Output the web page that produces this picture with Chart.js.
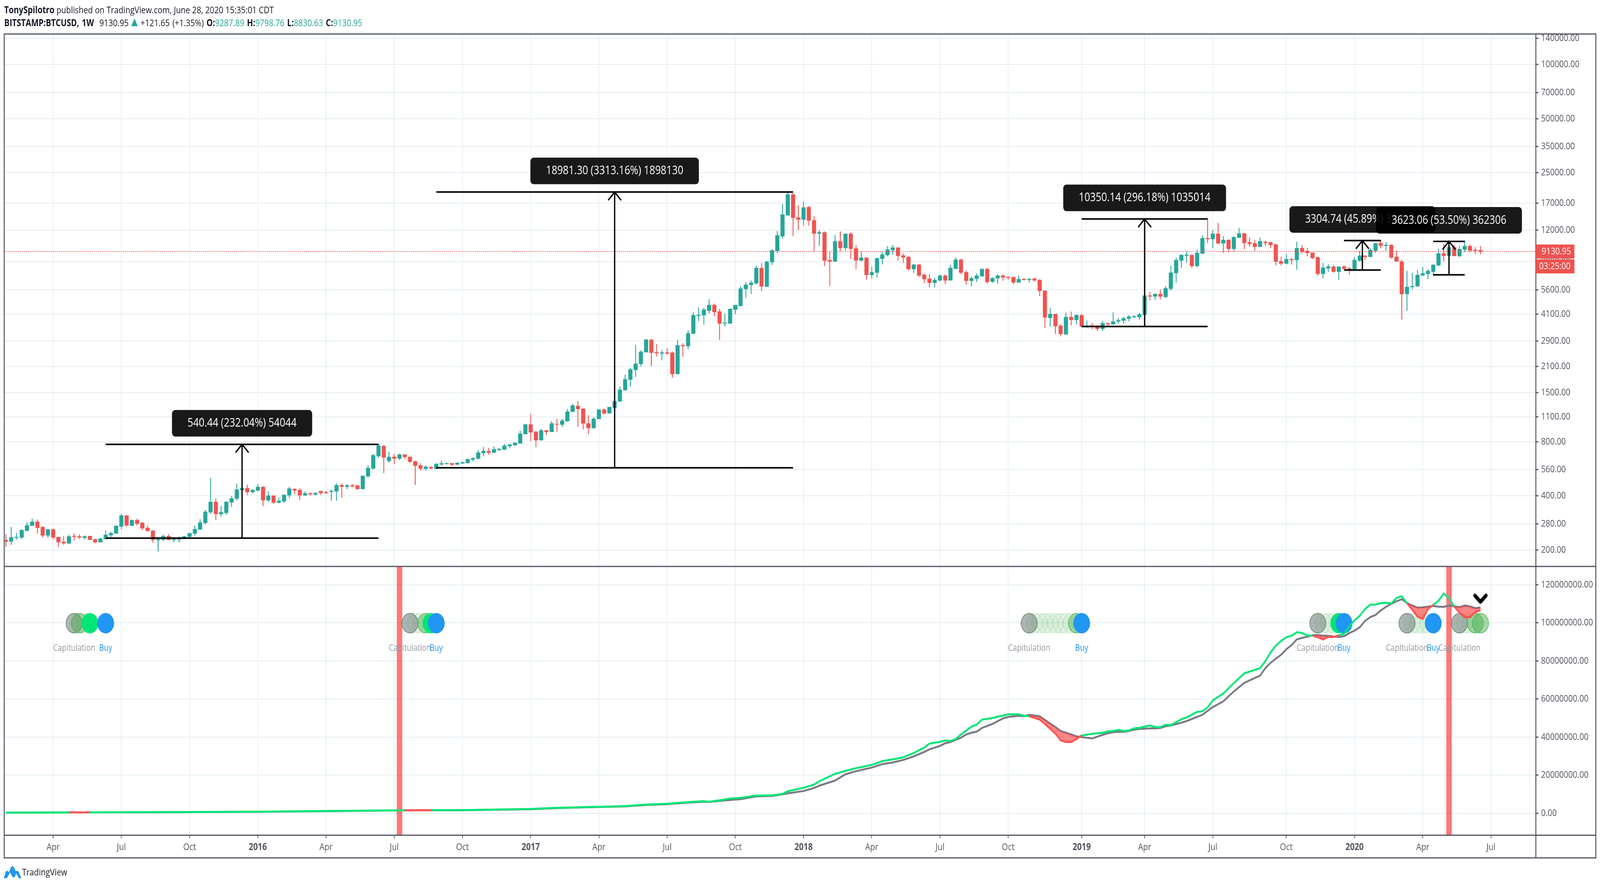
<!DOCTYPE html>
<html>
<head>
<meta charset="utf-8">
<style>
html, body { margin: 0; padding: 0; background: #fff; width: 100vw; height: 100vh; overflow: hidden; }
#root { position: absolute; left: 0; top: 0; width: 4936px; height: 2268px; overflow: hidden; transform-origin: 0 0; font-family: "Open Sans", sans-serif; color: #131722; }
canvas { position: absolute; left: 0; top: 0; }
.head { position: absolute; left: 13px; font-size: 24.4px; white-space: nowrap; line-height: 30px; }
.head b { font-weight: 700; }
.teal { color: #26a69a; }
.tri { display: inline-block; width: 0; height: 0; border-left: 10px solid transparent; border-right: 10px solid transparent; border-bottom: 20px solid #26a69a; }
#logo { position: absolute; left: 12px; top: 2216px; }
#logoText { position: absolute; left: 68px; top: 2214px; font-size: 24.4px; line-height: 36px; color: #131722; }
</style>
<script src="https://cdn.jsdelivr.net/npm/chart.js@4"></script>
</head>
<body>
<div id="root">
<canvas id="chart" width="4936" height="2268"></canvas>
<div class="head" style="top:10px"><b>TonySpilotro</b> published on TradingView.com, June 28, 2020 15:35:01 CDT</div>
<div class="head" style="top:43px;word-spacing:2px"><b>BITSTAMP:BTCUSD, 1W</b>&nbsp; 9130.95 <span class="tri"></span> +121.65 (+1.35%) <b>O:</b><span class="teal">9287.89</span> <b>H:</b><span class="teal">9798.76</span> <b>L:</b><span class="teal">8830.63</span> <b>C:</b><span class="teal">9130.95</span></div>
<svg id="logo" width="54" height="32" viewBox="0 0 54 32"><path d="M0 32 L5 17 Q8 10 13 15 L15 17 L22 4 Q26 -1 31 4 L37 15 Q41 11 45 15 L54 32 L46 32 L38 20 L33 29 Q29 32 26 28 L19 17 L12 28 Q10 32 6 32 Z" fill="#2196f3"/></svg>
<div id="logoText">TradingView</div>
</div>
<script>
// the browser can clamp the window below 4936 wide, so fit the 4936x2268 drawing into whatever it gives
document.getElementById('root').style.transform = 'scale(' + (window.innerWidth / 4936) + ',' + (window.innerHeight / 2268) + ')';

var opens = [227,223,234,235,256,273,287,268,241,260,
236,222,218,239,238,234,239,229,221,230,
242,247,270,311,273,293,283,265,256,227,
228,239,228,229,231,237,247,260,283,324,
370,317,322,368,386,431,441,420,429,448,
378,401,367,373,403,437,431,403,413,407,
425,419,422,424,459,450,458,457,437,515,
568,665,757,625,658,645,678,658,621,591,
566,578,566,599,603,607,598,606,609,636,
645,692,710,696,719,724,756,765,783,882,
997,907,816,925,907,1003,997,1041,1176,1265,
1222,1011,953,1070,1205,1151,1234,1340,1547,1770,
2005,2165,2515,2947,2515,2475,2505,2500,1905,2750,
2720,3200,4015,4040,4280,4600,4230,3635,3635,4335,
4560,5650,5955,6080,7390,5825,7974,9210,11100,14510,
18950,14100,13750,16130,13620,11500,11670,8180,8040,10400,
9550,11440,9500,8140,8430,6770,6970,8330,8730,9300,
9600,8680,8510,7290,7710,6770,6440,6120,6310,6700,
6310,7320,8220,7000,6280,6450,6670,7290,6210,6480,
6700,6590,6560,6150,6420,6360,6440,6340,5530,3900,
4100,3530,3160,3945,3805,4040,3500,3545,3530,3395,
3640,3600,3735,3770,3865,3940,3945,4060,5190,5140,
5300,5110,5670,6930,8140,8670,8730,7590,8905,10820,
10710,11460,10140,10590,9450,10900,11500,10260,10140,9700,
10320,10260,9990,8060,7830,8270,8190,9530,9190,8990,
8470,6860,7360,7520,7050,7520,7360,7280,8130,8650,
8530,9240,10140,9830,9930,8530,8030,5300,5800,5860,
6730,6860,7050,7660,8900,8650,9650,8620,9360,9790,
9320,9287.89];
var highs = [244,268,249,260,284,298,295,271,261,263,
236,238,242,247,244,241,240,231,234,257,
252,274,317,311,295,298,286,273,258,236,
243,245,236,237,239,248,273,296,334,502,
387,351,372,399,467,467,460,435,464,451,
422,401,391,405,448,439,441,422,417,417,
425,425,433,469,469,464,464,457,517,588,
682,778,765,703,682,685,682,661,627,605,
588,584,607,629,612,607,614,617,642,656,
718,746,738,752,738,775,775,791,920,1005,
1139,917,940,925,1041,1073,1070,1216,1297,1344,
1222,1118,1096,1216,1222,1248,1344,1620,1885,2056,
2750,2575,2965,2980,2790,2590,2640,2530,2935,2815,
3330,4185,4460,4440,4960,4685,4380,4125,4380,4600,
5840,6180,6300,7600,7870,8080,9380,11860,16770,19600,
19300,16500,17220,16330,14390,11950,11790,9130,11270,11790,
11500,11670,9900,9090,8470,7510,8410,9040,9770,9930,
9600,8900,8560,7790,7750,6900,6830,6490,6810,6810,
7710,8470,8300,7150,6640,6900,7330,7400,6560,6830,
6810,6640,6640,6720,6480,6480,6540,6380,5530,4420,
4100,3585,4165,4225,4080,4100,3770,3660,3530,3735,
3660,4186,3880,3945,4040,4040,4165,5350,5440,5350,
5620,5850,7590,8410,8770,9090,8730,9360,11205,13890,
12040,13140,11100,10660,11100,12350,11550,10900,10590,10900,
10500,10320,10040,8530,8820,8410,10320,9930,9530,8990,
8530,7880,7740,7660,7520,7660,7480,8470,9190,8650,
9530,10140,10560,10320,9990,9210,8190,7120,6970,7210,
7480,7280,7740,9450,10040,10320,9930,9790,10500,9990,
9630,9798.76];
var lows = [209,214,228,230,255,273,247,235,235,229,
208,214,216,226,230,229,228,218,221,230,
236,247,261,270,273,274,258,255,220,197,
224,227,221,221,230,235,241,260,277,319,
293,308,314,347,378,405,405,414,424,351,
371,361,364,367,391,407,380,401,401,403,
405,409,376,376,391,437,446,433,435,505,
561,652,535,612,603,635,642,609,460,553,
551,563,563,589,598,589,594,604,607,621,
638,664,678,694,715,719,738,762,779,880,
807,746,811,875,907,907,968,1035,1163,968,
940,882,948,1070,1136,1151,1234,1333,1547,1622,
1835,2100,2515,2110,2385,2270,2445,1815,1895,2380,
2610,3165,3755,3585,4150,3985,2945,3500,3635,4100,
4510,5060,5320,6000,5520,5825,7700,8960,10770,14470,
11120,12000,12760,12760,9090,9840,7590,5880,8040,9200,
9270,8320,7290,8050,6370,6470,6560,7750,8600,8780,
8140,7890,7180,6970,6590,6100,5780,5780,6250,6030,
6310,7320,6830,5980,5850,6180,6590,6060,6120,6060,
6280,6370,6030,6120,6310,6150,6250,5170,3440,3500,
3190,3090,3160,3550,3600,3480,3440,3375,3310,3310,
3515,3585,3640,3640,3750,3900,3825,4020,4890,4910,
4960,5030,5530,6150,7440,7940,7400,7480,8860,10200,
9530,10040,8990,9040,9160,10900,9410,9700,9240,9700,
9790,9530,7660,7660,7740,7740,7250,8900,8610,8290,
6730,6480,7050,6970,6370,7250,6800,7280,8030,8190,
8530,8990,9530,9240,8340,8030,3830,4290,5650,5820,
6690,6420,6690,7580,8060,8650,8610,8530,9100,9040,
8860,8830.63];
var closes = [223,235,236,258,274,287,266,241,260,235,
221,218,238,237,235,238,228,221,231,243,
248,272,311,274,293,280,264,255,228,229,
239,228,230,232,238,248,261,284,326,370,
317,324,370,387,433,441,420,431,448,378,
401,367,375,405,439,429,403,413,409,415,
415,415,426,459,450,457,453,437,517,571,
672,761,654,658,645,678,658,619,588,567,
580,569,601,606,607,596,609,614,640,647,
696,710,696,726,728,760,771,789,887,997,
902,816,925,907,1011,997,1047,1176,1272,1216,
1011,953,1073,1205,1151,1245,1344,1555,1780,2016,
2171,2527,2955,2500,2490,2505,2475,1905,2750,2720,
3205,4040,4060,4335,4600,4205,3635,3665,4380,4600,
5680,5970,6115,7390,5840,8020,9260,11220,14650,18950,
14060,13750,16030,13580,11500,11670,8140,8040,10400,9550,
11440,9450,8140,8430,6770,7000,8370,8770,9360,9600,
8640,8470,7290,7710,6720,6410,6120,6340,6700,6310,
7400,8220,6970,6280,6480,6700,7290,6180,6490,6700,
6560,6530,6150,6410,6360,6430,6310,5510,3930,4100,
3515,3175,3945,3805,4040,3500,3530,3500,3395,3640,
3600,3725,3785,3880,3965,3980,4080,5190,5140,5300,
5140,5700,6970,8180,8730,8760,7590,8970,10820,10710,
11460,10140,10590,9450,10960,11500,10200,10060,9700,10410,
10200,9930,8030,7830,8270,8190,9530,9100,8960,8410,
6860,7420,7520,7050,7520,7330,7280,8190,8650,8530,
9320,10140,9830,9930,8470,8030,5300,5800,5860,6760,
6900,7120,7700,8900,8650,9650,8620,9410,9790,9240,
9210,9130.95];

// hash ribbon pane, in millions, read at these weeks
var hashWeeks = [0,11,12,15,16,30,48,61,75,76,80,81,87,100,105,113,118,122,126,130,133,134,136,138,140,143,146,148,149,152,154,155,158,160,162,165,167,169,171,173,175,176,178,179,180,181,182,183,184,185,186,188,189,190,191,193,194,195,197,198,200,201,202,203,204,205,207,209,210,211,212,213,214,215,216,218,219,220,221,222,224,225,227,228,229,230,232,234,236,239,240,241,242,243,244,245,246,247,248,249,250,251,252,253,254,255,256,257,258,259,260,261,262,263,264,265,266,267,268,269,270,271,272,273,274,275,276,277,278,279,280,281];
var hashFast = [.35,.46,.47,.5,.52,.6,.85,1.2,1.55,1.55,1.6,1.62,1.7,2.3,2.9,3.4,3.8,4.6,5,5.9,6.4,6.1,6.8,7.8,8.1,9.3,9.4,10.2,11.6,13.4,15.1,16.8,20.7,22.3,23.7,25.4,27.4,28.3,29.4,31.7,34.5,36.6,37.5,38.3,38,39,41.4,43.5,45.5,46.6,49.2,50,50.8,51.2,52,52,51.2,51,49.2,46.9,41.8,38.3,37.4,37.4,39,40.9,41.7,42.3,43,43.2,43.8,43.2,43.5,44.6,44.9,46.1,45.3,45.2,46.5,46.3,49.4,50.3,53.2,53.6,55.6,59.3,62.9,68.4,73.5,76.2,79.9,84.5,88,90.5,92.4,93.2,95.1,94.7,93.3,93.4,92.4,91.3,92.6,92.6,93.4,94.3,98,101.3,103.7,107.2,109.5,109.6,110.3,110.5,110.2,113,114,110.3,106.9,103.3,102,107.3,109.4,111.6,115.4,113,108.6,105.4,102.9,102.9,105.6,106.6];
var hashSlow = [.33,.45,.48,.51,.51,.58,.8,1.1,1.5,1.56,1.61,1.6,1.6,2.15,2.75,3.3,3.6,4.4,4.8,5.6,6.1,6,6.5,7,7.4,8.9,9.1,10,10.5,11.7,13.3,14.5,17.2,20.5,22.1,24,25.8,26.7,28,29.9,32.2,33.6,35.4,36.8,37.4,38.6,39.7,41.4,42.3,42.9,44.8,46.9,48.4,49.8,50.6,51.2,51,51.7,50.9,49,45.3,43.2,42.3,41.4,40.4,40,39.3,41.2,42,42.6,42.8,42.8,43.2,43.9,44.3,44.6,44.6,44.8,45.7,46.1,47.6,48.4,50.6,51.7,53.8,55.8,58.8,64,68.5,72.3,76.2,79,81.2,83.2,86.1,88.3,91.3,92.1,92.7,93.5,93.6,93.3,93.2,92.8,92.6,93,94.6,95.9,97.7,101,103,104.1,106.5,108.4,110,111.3,112.4,110.4,109.1,108,108.1,108.5,108.9,108.5,108.4,109.1,108.7,108.2,109.1,108.6,107.7,108];

// ribbon signal weeks
var capitulationWeeks = [13,77,195,250,267,277];
var buyWeeks = [19,82,205,255,272];
var brightWeeks = [16,81,254];
var strongWeeks = [14,80,204,280,281];
var paleWeeks = [15,78,79,196,197,198,199,200,201,202,203,251,252,253,268,269,270,271,278,279];
var bandWeeks = [75,275];

// axis ticks
var tickWeeks = [9,22,35,48,61,74,87,100,113,126,139,152,165,178,191,205,217,230,244,257,270,283];
var tickLabels = ['Apr','Jul','Oct','2016','Apr','Jul','Oct','2017','Apr','Jul','Oct','2018','Apr','Jul','Oct','2019','Apr','Jul','Oct','2020','Apr','Jul'];
var priceTicks = [140000,100000,70000,50000,35000,25000,17000,12000,8000,5600,4100,2900,2100,1500,1100,800,560,400,280,200];
var hashTicks = [0,20,40,60,80,100,120];

// price range measurements
var measureFrom = [19,82,205,255,272];
var measureTo = [71,150,229,262,278];
var measureLow = [232.9,572.9,3494.7,7201,6772];
var measureHigh = [773.3,19554,13845,10506,10395];
var measureText = ['540.44 (232.04%) 54044','18981.30 (3313.16%) 1898130','10350.14 (296.18%) 1035014','3304.74 (45.89%) 330474','3623.06 (53.50%) 362306'];

var lastPrice = 9130.95;
var upColor = '#26a69a', downColor = '#ef5350', frameColor = '#50535e', gridColor = '#e3edf3';
var axisFont = '"Open Sans", sans-serif';

var weeks = closes.map(function (c, i) { return i; });
var candleColors = closes.map(function (c, i) { return c >= opens[i] ? upColor : downColor; });
var hashMin = -11.5, hashMax = 129.6;

function dots(list, value) {
    return list.map(function (w) { return { x: w, y: value }; });
}
function marker(list, fill, border, order) {
    return { type: 'scatter', data: dots(list, 99.8), yAxisID: 'yHash', order: order, pointRadius: 25, pointBorderWidth: 2, pointBackgroundColor: fill, pointBorderColor: border };
}

// everything that is not a dataset: frame, last price, measures, labels
var overlay = {
    id: 'overlay',
    afterDatasetsDraw: function (chart) {
        var c = chart.ctx, a = chart.chartArea;
        var x = chart.scales.x, yp = chart.scales.yPrice, yh = chart.scales.yHash;
        c.save();
        c.lineCap = 'butt';

        // ribbon labels under the circles
        c.font = '23px ' + axisFont;
        c.textAlign = 'center';
        c.textBaseline = 'middle';
        c.fillStyle = '#9598a1';
        capitulationWeeks.forEach(function (w) { c.fillText('Capitulation', x.getPixelForValue(w), yh.getPixelForValue(86.6)); });
        c.fillStyle = '#2196f3';
        buyWeeks.forEach(function (w) { c.fillText('Buy', x.getPixelForValue(w), yh.getPixelForValue(86.6)); });

        // chevron over the last bar
        var cx = x.getPixelForValue(281), cy = yh.getPixelForValue(110);
        c.strokeStyle = '#000';
        c.lineWidth = 10;
        c.lineCap = 'round';
        c.lineJoin = 'round';
        c.beginPath();
        c.moveTo(cx - 17, cy - 21);
        c.lineTo(cx, cy - 5);
        c.lineTo(cx + 17, cy - 21);
        c.stroke();
        c.lineCap = 'butt';
        c.lineJoin = 'miter';

        // last price line
        var ly = yp.getPixelForValue(lastPrice);
        c.strokeStyle = downColor;
        c.lineWidth = 2;
        c.setLineDash([3, 3]);
        c.beginPath();
        c.moveTo(a.left, ly);
        c.lineTo(a.right, ly);
        c.stroke();
        c.setLineDash([]);

        // measures
        measureFrom.forEach(function (f, i) {
            var xa = x.getPixelForValue(f), xb = x.getPixelForValue(measureTo[i]);
            var mid = x.getPixelForValue((f + measureTo[i]) / 2);
            var lo = yp.getPixelForValue(measureLow[i]), hi = yp.getPixelForValue(measureHigh[i]);
            c.strokeStyle = '#000';
            c.lineWidth = 4;
            c.beginPath();
            c.moveTo(xa, lo); c.lineTo(xb, lo);
            c.moveTo(xa, hi); c.lineTo(xb, hi);
            c.moveTo(mid, lo); c.lineTo(mid, hi);
            c.moveTo(mid - 20, hi + 21); c.lineTo(mid, hi); c.lineTo(mid + 20, hi + 21);
            c.stroke();
        });
        measureFrom.forEach(function (f, i) {
            var mid = x.getPixelForValue((f + measureTo[i]) / 2);
            var hi = yp.getPixelForValue(measureHigh[i]);
            c.font = '30.5px ' + axisFont;
            var w = c.measureText(measureText[i]).width + 96;
            c.fillStyle = 'rgba(0,0,0,0.9)';
            c.beginPath();
            c.roundRect(mid - w / 2, hi - 88, w, 68, 10);
            c.fill();
            c.fillStyle = '#fff';
            c.textAlign = 'center';
            c.textBaseline = 'middle';
            c.fillText(measureText[i], mid, hi - 54);
        });

        // frame
        c.strokeStyle = frameColor;
        c.lineWidth = 3;
        c.beginPath();
        c.rect(a.left - 1, a.top, 4923 - a.left + 1, 2196 - a.top);
        c.moveTo(a.right, a.top); c.lineTo(a.right, 2196);
        c.moveTo(a.left, a.bottom); c.lineTo(4923, a.bottom);
        c.moveTo(a.left, yp.bottom); c.lineTo(4923, yp.bottom);
        c.stroke();

        // last price tags
        c.fillStyle = downColor;
        c.fillRect(a.right, ly - 18, 119, 36);
        c.fillRect(a.right, ly + 20, 119, 36);
        c.fillStyle = '#fff';
        c.font = '24.5px ' + axisFont;
        c.textAlign = 'left';
        c.fillText('9130.95', a.right + 18, ly);
        c.fillText('03:25:00', a.right + 10, ly + 38);
        c.restore();
    }
};

var datasets = [
    { type: 'line', label: 'slow', data: hashWeeks.map(function (w, i) { return { x: w, y: hashSlow[i] }; }), yAxisID: 'yHash', order: 2, borderColor: '#787b86', borderWidth: 5, pointRadius: 0, tension: 0 },
    { type: 'line', label: 'fast', data: hashWeeks.map(function (w, i) { return { x: w, y: hashFast[i] }; }), yAxisID: 'yHash', order: 1, borderColor: '#00e676', borderWidth: 5, pointRadius: 0, tension: 0,
      fill: { target: 0, above: 'rgba(0,0,0,0)', below: 'rgba(255,60,60,0.62)' },
      segment: { borderColor: function (ctx) { return hashFast[ctx.p0DataIndex] < hashSlow[ctx.p0DataIndex] ? '#ff5252' : '#00e676'; } } },
    marker(buyWeeks, '#2196f3', '#2196f3', 3),
    marker(brightWeeks, '#00e676', '#00e676', 4),
    marker(strongWeeks, 'rgba(76,175,80,0.5)', 'rgba(76,175,80,0.8)', 5),
    marker(capitulationWeeks, 'rgba(110,130,120,0.58)', 'rgba(100,120,110,0.85)', 6),
    marker(paleWeeks, 'rgba(76,175,80,0.08)', 'rgba(76,175,80,0.2)', 7),
    { type: 'bar', data: bandWeeks.map(function (w) { return { x: w, y: [hashMin, hashMax] }; }), yAxisID: 'yHash', order: 8, backgroundColor: 'rgba(255,0,0,0.53)', grouped: false, barPercentage: 1, categoryPercentage: 1, maxBarThickness: 17 },
    { type: 'bar', data: weeks.map(function (w, i) { return { x: w, y: [Math.min(opens[i], closes[i]), Math.max(opens[i], closes[i])] }; }), yAxisID: 'yPrice', order: 9, backgroundColor: candleColors, grouped: false, barPercentage: 1, categoryPercentage: 1, maxBarThickness: 12 },
    { type: 'bar', data: weeks.map(function (w, i) { return { x: w, y: [lows[i], highs[i]] }; }), yAxisID: 'yPrice', order: 10, backgroundColor: candleColors, grouped: false, barPercentage: 1, categoryPercentage: 1, maxBarThickness: 2 }
];

function noScalePadding(s) {
    s.paddingLeft = 0; s.paddingRight = 0; s.paddingTop = 0; s.paddingBottom = 0;
}

new Chart(document.getElementById('chart'), {
    data: { datasets: datasets },
    plugins: [overlay],
    options: {
        responsive: false,
        devicePixelRatio: 1,
        animation: false,
        events: [],
        layout: { autoPadding: false, padding: { left: 14, right: 13, top: 87, bottom: 72 } },
        plugins: { legend: { display: false }, tooltip: { enabled: false } },
        scales: {
            x: {
                type: 'linear', offset: false,
                min: -0.266, max: 291.55,
                grid: { offset: false, color: gridColor, lineWidth: 2, tickColor: frameColor, tickLength: 8, tickWidth: 2 },
                border: { display: false },
                afterBuildTicks: function (s) { s.ticks = tickWeeks.map(function (v) { return { value: v }; }); },
                afterFit: function (s) { s.height = 58; noScalePadding(s); },
                ticks: {
                    autoSkip: false, maxRotation: 0, padding: 8, color: frameColor,
                    font: function (ctx) {
                        var t = ctx.tick && tickLabels[tickWeeks.indexOf(ctx.tick.value)];
                        return { family: axisFont, size: 24.5, weight: /^20/.test(t || '') ? 'bold' : 'normal' };
                    },
                    callback: function (v) { return tickLabels[tickWeeks.indexOf(v)]; }
                }
            },
            yPrice: {
                type: 'logarithmic', position: 'right', stack: 'panes', stackWeight: 1363,
                min: 162, max: 147900,
                grid: { color: gridColor, lineWidth: 2, tickColor: frameColor, tickLength: 8, tickWidth: 3 },
                border: { display: false },
                afterBuildTicks: function (s) { s.ticks = priceTicks.map(function (v) { return { value: v }; }); },
                afterFit: function (s) { s.width = 185; noScalePadding(s); },
                ticks: {
                    autoSkip: false, padding: 8, color: frameColor, font: { family: axisFont, size: 24.5 },
                    callback: function (v) { return Number(v).toFixed(2); }
                }
            },
            yHash: {
                type: 'linear', position: 'right', stack: 'panes', stackWeight: 688,
                min: hashMin, max: hashMax,
                grid: { color: gridColor, lineWidth: 2, tickColor: frameColor, tickLength: 8, tickWidth: 3 },
                border: { display: false },
                afterBuildTicks: function (s) { s.ticks = hashTicks.map(function (v) { return { value: v }; }); },
                afterFit: function (s) { s.width = 185; noScalePadding(s); },
                ticks: {
                    autoSkip: false, padding: 8, color: frameColor, font: { family: axisFont, size: 24.5 },
                    callback: function (v) { return (v * 1000000).toFixed(2); }
                }
            }
        }
    }
});
</script>
</body>
</html>
